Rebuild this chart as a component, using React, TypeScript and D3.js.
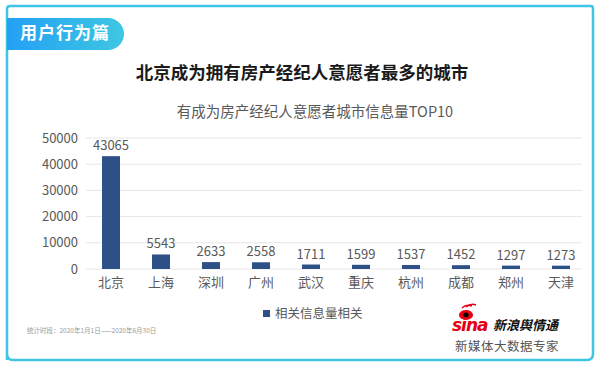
import React, { useEffect, useRef } from 'react';
import * as d3 from 'd3';

const cities = ['北京', '上海', '深圳', '广州', '武汉', '重庆', '杭州', '成都', '郑州', '天津'];
const values = [43065, 5543, 2633, 2558, 1711, 1599, 1537, 1452, 1297, 1273];
const yTicks = [0, 10000, 20000, 30000, 40000, 50000];

const FONT = '"Noto Sans CJK SC", "Noto Sans", sans-serif';

export default function App() {
  const svgRef = useRef<SVGSVGElement>(null);

  useEffect(() => {
    if (!svgRef.current) return;
    const svg = d3.select(svgRef.current);
    svg.selectAll('*').remove();

    // Frame
    const defs = svg.append('defs');
    const grad = defs.append('linearGradient').attr('id', 'badge').attr('x1', '0%').attr('x2', '100%');
    grad.append('stop').attr('offset', '0%').attr('stop-color', '#24a0f4');
    grad.append('stop').attr('offset', '100%').attr('stop-color', '#3ec7e2');

    svg
      .append('path')
      .attr('d', 'M7,360 L7,9 Q7,6 10,6 L591,6 Q593,6 593,9 L593,354 Q593,360 587,360 L13,360 Q7,360 7,354 Z')
      .attr('fill', '#fff')
      .attr('stroke', '#3ec6e6')
      .attr('stroke-width', 2.5);

    svg
      .append('path')
      .attr('d', 'M7,18 L108,18 A16,16 0 0 1 108,50 L7,50 Z')
      .attr('fill', 'url(#badge)');
    svg
      .append('text')
      .attr('x', 20)
      .attr('y', 39)
      .attr('fill', '#fff')
      .style('font-family', FONT)
      .style('font-size', '17px')
      .style('font-weight', 'bold')
      .style('letter-spacing', '1px')
      .text('用户行为篇');

    // Titles
    svg
      .append('text')
      .attr('x', 302)
      .attr('y', 79)
      .attr('text-anchor', 'middle')
      .attr('fill', '#1a1a1a')
      .style('font-family', FONT)
      .style('font-size', '17.5px')
      .style('font-weight', 'bold')
      .text('北京成为拥有房产经纪人意愿者最多的城市');
    svg
      .append('text')
      .attr('x', 315)
      .attr('y', 117)
      .attr('text-anchor', 'middle')
      .attr('fill', '#595959')
      .style('font-family', FONT)
      .style('font-size', '14.5px')
      .text('有成为房产经纪人意愿者城市信息量TOP10');

    // Chart
    const x = d3.scaleBand<string>().domain(cities).range([86, 586]).paddingInner(0.64).paddingOuter(0.32);
    const y = d3.scaleLinear().domain([0, 50000]).range([269, 138]);

    const grid = svg.append('g');
    grid
      .selectAll('line')
      .data(yTicks)
      .enter()
      .append('line')
      .attr('x1', 86)
      .attr('x2', 582)
      .attr('y1', (d) => y(d))
      .attr('y2', (d) => y(d))
      .attr('stroke', '#e6e6e6')
      .attr('stroke-width', 1);

    const yAxis = svg
      .append('g')
      .attr('transform', 'translate(86,0)')
      .call(d3.axisLeft(y).tickValues(yTicks).tickSize(0).tickPadding(8).tickFormat(d3.format('d')));
    yAxis.select('.domain').remove();
    yAxis
      .selectAll('text')
      .attr('fill', '#595959')
      .style('font-family', FONT)
      .style('font-size', '13px');

    const xAxis = svg
      .append('g')
      .attr('transform', 'translate(0,269)')
      .call(d3.axisBottom(x).tickSize(0).tickPadding(9));
    xAxis.select('.domain').remove();
    xAxis
      .selectAll('text')
      .attr('fill', '#595959')
      .style('font-family', FONT)
      .style('font-size', '13px');

    svg
      .append('g')
      .selectAll('rect')
      .data(values)
      .enter()
      .append('rect')
      .attr('x', (_d, i) => x(cities[i])!)
      .attr('y', (d) => y(d))
      .attr('width', x.bandwidth())
      .attr('height', (d) => 269 - y(d))
      .attr('fill', '#2d5087');

    svg
      .append('g')
      .selectAll('text')
      .data(values)
      .enter()
      .append('text')
      .attr('x', (_d, i) => x(cities[i])! + x.bandwidth() / 2)
      .attr('y', (d) => y(d) - 6)
      .attr('text-anchor', 'middle')
      .attr('fill', '#595959')
      .style('font-family', FONT)
      .style('font-size', '13px')
      .text((d) => String(d));

    // Legend
    svg.append('rect').attr('x', 263).attr('y', 310).attr('width', 7).attr('height', 7).attr('fill', '#2d5087');
    svg
      .append('text')
      .attr('x', 275)
      .attr('y', 318)
      .attr('fill', '#595959')
      .style('font-family', FONT)
      .style('font-size', '12.5px')
      .text('相关信息量相关');

    // Footnote
    svg
      .append('text')
      .attr('x', 27)
      .attr('y', 333)
      .attr('fill', '#9a9a9a')
      .style('font-family', FONT)
      .style('font-size', '6.5px')
      .text('统计时段：2020年1月1日——2020年6月30日');

    // Sina logo
    const logo = svg.append('g');
    logo
      .append('ellipse')
      .attr('cx', 466)
      .attr('cy', 315)
      .attr('rx', 7)
      .attr('ry', 5)
      .attr('fill', '#e60012');
    logo.append('circle').attr('cx', 466).attr('cy', 315).attr('r', 2.6).attr('fill', '#000');
    logo
      .append('path')
      .attr('d', 'M462,308 Q466,304 472,306 M466,307 Q471,303 476,305')
      .attr('fill', 'none')
      .attr('stroke', '#e60012')
      .attr('stroke-width', 1.5);
    logo
      .append('text')
      .attr('x', 452)
      .attr('y', 331)
      .attr('fill', '#e60012')
      .style('font-family', '"DejaVu Sans", sans-serif')
      .style('font-size', '17px')
      .style('font-weight', 'bold')
      .style('font-style', 'italic')
      .style('letter-spacing', '-1px')
      .text('sina');
    logo
      .append('text')
      .attr('x', 493)
      .attr('y', 330)
      .attr('fill', '#111')
      .style('font-family', FONT)
      .style('font-size', '13px')
      .style('font-weight', 'bold')
      .style('font-style', 'italic')
      .text('新浪舆情通');
    svg
      .append('text')
      .attr('x', 455)
      .attr('y', 351)
      .attr('fill', '#555')
      .style('font-family', FONT)
      .style('font-size', '12.5px')
      .style('letter-spacing', '0.5px')
      .text('新媒体大数据专家');
  }, []);

  return (
    <div style={{ position: 'absolute', left: 0, top: 0 }}>
      <svg ref={svgRef} width={600} height={365} style={{ display: 'block', background: '#fff' }}></svg>
    </div>
  );
}
